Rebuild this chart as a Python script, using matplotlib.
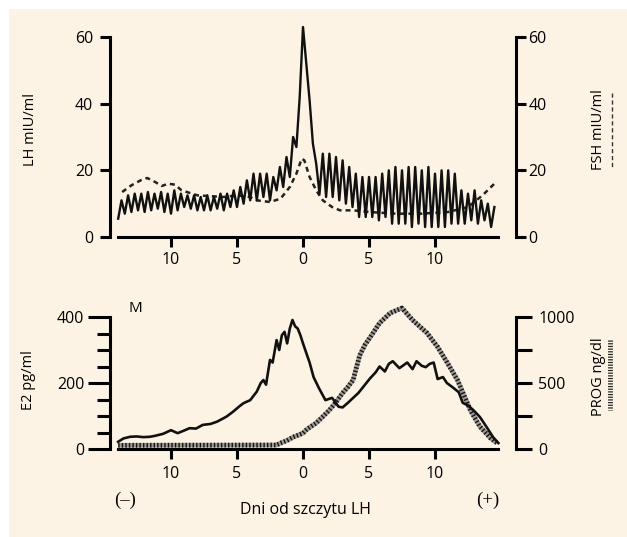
import numpy as np
import matplotlib
matplotlib.use("Agg")
from matplotlib import pyplot as plt
from matplotlib.lines import Line2D
from matplotlib.patches import Rectangle

plt.rcParams['font.family'] = ['Open Sans', 'DejaVu Sans']
plt.rcParams['font.size'] = 11.5

# --- data ---
# LH, sampled every 0.25 day from -14 to 14.5 (pulsatile zig-zag)
lh_days = np.arange(-14, 14.51, 0.25)
lh = [5.5, 11, 7, 12.5, 7.5, 13, 8, 13,
      7.5, 13.5, 8, 13, 8.5, 13.5, 7.5, 13,
      7, 14, 8, 13, 9, 12.5, 8.5, 12.5,
      8, 12, 8, 12.5, 8, 12, 8.5, 13,
      8, 13, 9, 14, 9, 15, 10, 17,
      11, 19, 11, 19, 12, 19, 11, 18,
      14, 21, 15, 24, 18, 30, 27, 42,
      63, 52, 41, 28, 22, 13, 25, 12,
      25, 12, 24, 11, 23, 10, 21, 9,
      19, 6, 18, 6, 18, 6, 18, 5,
      19, 6, 20, 4, 21, 4, 20, 4,
      21, 3, 21, 4, 20, 3, 21, 3,
      19, 3, 20, 3, 20, 4, 19, 4,
      14, 4, 13, 5, 14, 4, 11, 5,
      10, 3, 9]

fsh_days = [-13.7, -13, -12.3, -11.8, -11.2, -10.7, -10.2, -9.7, -9.2, -8, -6, -5,
            -4, -3.5, -2.5, -1.7, -1, -0.5, -0.1, 0.1, 0.5, 1, 1.5, 2.2, 2.8, 3.8,
            5, 7, 9, 11, 12.5, 13.6, 14.5]
fsh = [13.5, 15.5, 17, 17.7, 16.5, 15.3, 16, 15.7, 14, 12.5, 12, 12.5,
       12, 11, 10.5, 11.5, 15, 19, 23.5, 23, 18, 14, 11, 9, 8, 8,
       7.5, 7, 7, 7.5, 9, 12.5, 16]

e2_days = [-14, -13.6, -13.1, -12.6, -12.1, -11.6, -11.2, -10.6, -10.0, -9.5,
           -9.0, -8.6, -8.1, -7.6, -7.0, -6.5, -5.8, -5.3, -4.8, -4.5,
           -4.0, -3.5, -3.2, -3.0, -2.8, -2.5, -2.3, -2.0, -1.8, -1.6,
           -1.4, -1.2, -1.0, -0.8, -0.6, -0.4, -0.2, 0.0, 0.3, 0.5,
           0.8, 1.2, 1.7, 2.2, 2.7, 3.0, 3.4, 3.8, 4.2, 4.5,
           5.1, 5.5, 5.8, 6.2, 6.5, 6.8, 7.3, 7.9, 8.3, 8.6,
           9.0, 9.3, 9.6, 9.9, 10.2, 10.6, 10.9, 11.4, 11.8, 12.1,
           12.5, 12.9, 13.4, 13.9, 14.4, 14.8]
e2 = [22, 32, 37, 38, 36, 37, 40, 46, 57, 48,
      56, 63, 62, 73, 76, 83, 98, 113, 130, 139,
      148, 174, 200, 209, 195, 270, 262, 330, 300, 345,
      355, 320, 365, 391, 372, 365, 345, 320, 285, 262,
      218, 185, 148, 155, 128, 126, 140, 155, 170, 185,
      215, 232, 250, 235, 258, 266, 245, 262, 242, 266,
      252, 248, 258, 262, 212, 218, 200, 185, 172, 140,
      132, 118, 97, 67, 36, 18]

prog_days = [-14, -2, -1.7, -1.2, -0.75, 0, 0.3, 1, 1.5, 2, 2.5, 3, 3.4, 3.8,
             4.0, 4.3, 4.7, 5.1, 5.8, 6.6, 7.5, 8.3, 9.4, 10.2, 10.9, 11.7,
             12.1, 12.7, 13.4, 14.2, 14.7]
prog = [28, 30, 45, 65, 90, 120, 150, 197, 245, 295, 355, 424, 470, 523,
        600, 710, 790, 848, 954, 1030, 1068, 977, 878, 773, 659, 523,
        430, 290, 170, 83, 45]

tick_days = [-10, -5, 0, 5, 10]
tick_labels = ['10', '5', '0', '5', '10']

W, H = 627, 537
fig = plt.figure(figsize=(W / 100, H / 100), dpi=100)
fig.patch.set_facecolor('white')
bg = '#fdf3e4'
fig.patches.append(Rectangle((9 / W, 0), 1, 1 - 9 / H, transform=fig.transFigure,
                             facecolor=bg, edgecolor='none', zorder=-10))


def fx(X):
    return X / W


def fy(Y):
    return 1 - Y / H


# day -> pixel: X = 303 + 13.2 * day
xlim = ((110 - 303) / 13.2, (516 - 303) / 13.2)
lw_ax = 2.2


def style_axes(ax, axr, ymax, rmax):
    ax.set_facecolor('none')
    ax.set_xlim(*xlim)
    ax.set_ylim(0, ymax)
    axr.set_ylim(0, rmax)
    for a in (ax, axr):
        a.spines['top'].set_visible(False)
        for s in a.spines.values():
            s.set_linewidth(lw_ax)
    ax.spines['right'].set_visible(False)
    axr.spines['left'].set_visible(False)
    axr.spines['bottom'].set_visible(False)
    ax.spines['bottom'].set_bounds(-14, 14.8)
    ax.set_xticks(tick_days)
    ax.set_xticklabels(tick_labels)
    ax.tick_params(axis='x', length=7, width=lw_ax, pad=3.5)


# ---- top panel: LH / FSH ----
ax1 = fig.add_axes([fx(110), fy(237), fx(516) - fx(110), (237 - 37) / H])
ax1r = ax1.twinx()
style_axes(ax1, ax1r, 60, 60)
ax1.set_yticks([0, 20, 40, 60])
ax1.tick_params(axis='y', length=7, width=lw_ax, pad=5)
ax1r.set_yticks([0, 20, 40, 60])
ax1r.tick_params(axis='y', length=7.5, width=lw_ax, pad=1.5)

ax1.plot(lh_days, lh, color='#111111', lw=1.7, clip_on=False, zorder=3)
ax1.plot(fsh_days, fsh, color='#222222', lw=1.8, ls=(0, (2.0, 1.6)),
         clip_on=False, zorder=2)

# ---- bottom panel: E2 / PROG ----
ax2 = fig.add_axes([fx(110), fy(449), fx(516) - fx(110), (449 - 317) / H])
ax2r = ax2.twinx()
style_axes(ax2, ax2r, 400, 1000)
ax2.set_yticks([0, 200, 400])
ax2.set_yticks(np.arange(0, 401, 50), minor=True)
ax2.tick_params(axis='y', which='major', length=15.5, width=lw_ax, pad=3)
ax2.tick_params(axis='y', which='minor', length=9.5, width=lw_ax)
ax2.tick_params(axis='x', pad=5)
ax2r.set_yticks([0, 500, 1000])
ax2r.set_yticks([250, 750], minor=True)
ax2r.tick_params(axis='y', which='both', length=11.5, width=lw_ax, pad=4.5)

# progesterone: grey band with dark cross-hatching
ax2r.plot(prog_days, prog, color='#a09a94', lw=3.4, clip_on=False, zorder=2,
          solid_capstyle='butt')
ax2r.plot(prog_days, prog, color='#151515', lw=3.4, ls=(0, (0.3, 0.45)),
          clip_on=False, zorder=2)
ax2.plot(e2_days, e2, color='#111111', lw=1.9, clip_on=False, zorder=3)
ax2.set_zorder(ax2r.get_zorder() + 1)

# ---- labels ----
fig.text(fx(30), fy(130), 'LH mIU/ml', rotation=90, ha='center', va='center', fontsize=10.5)
fig.text(fx(598), fy(130), 'FSH mIU/ml', rotation=90, ha='center', va='center', fontsize=10.5)
fig.text(fx(29), fy(380), 'E2 pg/ml', rotation=90, ha='center', va='center', fontsize=10.5)
fig.text(fx(598), fy(377), 'PROG ng/dl', rotation=90, ha='center', va='center', fontsize=10.5)
fig.text(fx(135), fy(309), 'M', ha='center', va='center', fontsize=11)
fig.text(fx(305), fy(510), 'Dni od szczytu LH', ha='center', va='center', fontsize=11.5)
fig.text(fx(125), fy(500), '(–)', ha='center', va='center', fontsize=13.5,
         family=['Liberation Serif', 'DejaVu Serif'])
fig.text(fx(488), fy(500), '(+)', ha='center', va='center', fontsize=13.5,
         family=['Liberation Serif', 'DejaVu Serif'])

# legend keys next to the right-hand labels
fig.lines.append(Line2D([fx(612), fx(612)], [fy(93), fy(168)], transform=fig.transFigure,
                        color='#333333', lw=1.0, ls=(0, (3, 2))))
fig.lines.append(Line2D([fx(610), fx(610)], [fy(340), fy(410)], transform=fig.transFigure,
                        color='#222222', lw=3.5, ls=(0, (0.25, 0.3))))

fig.savefig('out.png', dpi=100, facecolor=fig.get_facecolor())
